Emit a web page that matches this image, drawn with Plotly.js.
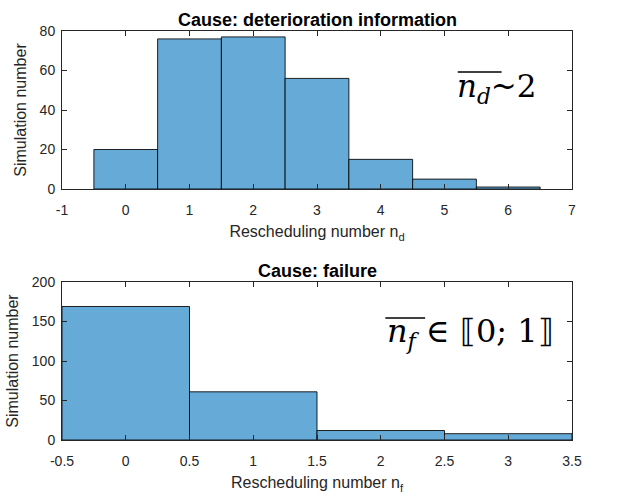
<!DOCTYPE html>
<html>
<head>
<meta charset="utf-8">
<script src="https://cdn.plot.ly/plotly-3.0.1.min.js"></script>
<style>html,body{margin:0;padding:0;background:#fff;}</style>
</head>
<body>
<div id="chart" style="width:621px;height:498px;"></div>
<script>
// Data
const ndValues = [0, 1, 2, 3, 4, 5, 6];
const ndCounts = [20, 76, 77, 56, 15, 5, 1];
const nfValues = [0, 1, 2, 3];
const nfCounts = [169, 61, 12, 8];
const topTitle = "Cause: deterioration information";
const bottomTitle = "Cause: failure";
const xTitleTop = "Rescheduling number n<sub>d</sub>";
const xTitleBottom = "Rescheduling number n<sub>f</sub>";
const yTitle = "Simulation number";
const topTickVals = [-1, 0, 1, 2, 3, 4, 5, 6, 7];
const bottomTickVals = [-0.5, 0, 0.5, 1, 1.5, 2, 2.5, 3, 3.5];
const topYTicks = [0, 20, 40, 60, 80];
const bottomYTicks = [0, 50, 100, 150, 200];

const barColor = "rgb(102,170,215)";
const axColor = "#262626";
const fontFam = "Liberation Sans, Arial, sans-serif";
const mathFam = "DejaVu Serif, Liberation Serif, serif";

const traces = [
  {type: "bar", x: ndValues, y: ndCounts, width: 1, xaxis: "x", yaxis: "y",
   marker: {color: barColor, line: {color: "rgba(0,0,0,0.85)", width: 1}}, hoverinfo: "skip"},
  {type: "bar", x: nfValues, y: nfCounts, width: 1, xaxis: "x2", yaxis: "y2",
   marker: {color: barColor, line: {color: "rgba(0,0,0,0.85)", width: 1}}, hoverinfo: "skip"}
];

function axBase() {
  return {
    showline: true, linecolor: axColor, linewidth: 1, mirror: "allticks",
    ticks: "inside", ticklen: 5, tickcolor: axColor, tickwidth: 1,
    showgrid: false, zeroline: false,
    tickfont: {family: fontFam, size: 14, color: axColor},
    fixedrange: true
  };
}
function xTitle(t) {
  return {text: t, font: {family: fontFam, size: 16, color: axColor}, standoff: 9};
}
function yTitleObj() {
  return {text: yTitle, font: {family: fontFam, size: 16, color: axColor}, standoff: 9};
}

const layout = {
  width: 621, height: 498,
  margin: {l: 62, r: 49, t: 31, b: 58},
  paper_bgcolor: "#fff", plot_bgcolor: "#fff",
  showlegend: false,
  bargap: 0,
  font: {family: fontFam, color: axColor},
  xaxis: Object.assign(axBase(), {domain: [0, 1], anchor: "y", range: [-1, 7],
    tickvals: topTickVals, ticktext: topTickVals.map(String), ticklabelstandoff: 8,
    title: xTitle(xTitleTop)}),
  yaxis: Object.assign(axBase(), {domain: [0.6137, 1], anchor: "x", range: [0, 80],
    tickvals: topYTicks, ticklabelstandoff: 3, title: yTitleObj()}),
  xaxis2: Object.assign(axBase(), {domain: [0, 1], anchor: "y2", range: [-0.5, 3.5],
    tickvals: bottomTickVals, ticktext: bottomTickVals.map(String), ticklabelstandoff: 8,
    title: xTitle(xTitleBottom)}),
  yaxis2: Object.assign(axBase(), {domain: [0, 0.3863], anchor: "x2", range: [0, 200],
    tickvals: bottomYTicks, ticklabelstandoff: 3, title: yTitleObj()}),
  annotations: [
    {text: "<b>" + topTitle + "</b>", xref: "x domain", yref: "y domain", x: 0.5, y: 1,
     yanchor: "bottom", yshift: -1, showarrow: false, font: {family: fontFam, size: 18, color: "#000"}},
    {text: "<b>" + bottomTitle + "</b>", xref: "x2 domain", yref: "y2 domain", x: 0.5, y: 1,
     yanchor: "bottom", yshift: -1, showarrow: false, font: {family: fontFam, size: 18, color: "#000"}},
    {text: "<i>n</i><sub><i>d</i></sub>~2", xref: "x domain", yref: "y domain", x: 0.77, y: 0.635,
     xanchor: "left", yanchor: "middle", showarrow: false,
     font: {family: mathFam, size: 31, color: "#000"}},
    {text: "<i>n</i><sub><i>f</i></sub> ∈ ⟦0; 1⟧", xref: "x2 domain", yref: "y2 domain", x: 0.634, y: 0.675,
     xanchor: "left", yanchor: "middle", showarrow: false,
     font: {family: mathFam, size: 32, color: "#000"}}
  ],
  shapes: [
    {type: "line", xref: "x domain", yref: "y domain", x0: 0.776, x1: 0.862, y0: 0.74, y1: 0.74,
     line: {color: "#000", width: 1.5}},
    {type: "line", xref: "x2 domain", yref: "y2 domain", x0: 0.634, x1: 0.712, y0: 0.772, y1: 0.772,
     line: {color: "#000", width: 1.5}}
  ]
};

Plotly.newPlot("chart", traces, layout, {displayModeBar: false, staticPlot: true});
</script>
</body>
</html>
